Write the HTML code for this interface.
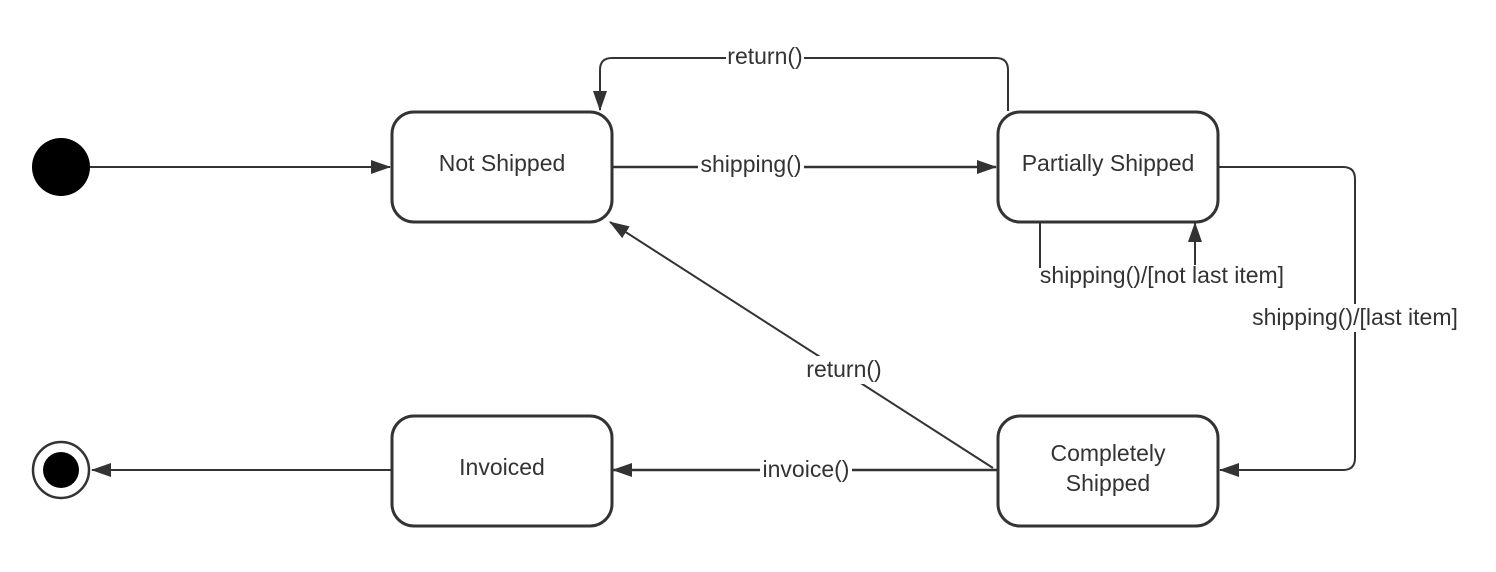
<!DOCTYPE html>
<html><head><style>body{margin:0;background:#fff}svg{display:block}text{font-family:"Liberation Sans",sans-serif;font-size:23px;fill:#333}</style></head><body>
<svg width="1496" height="572" viewBox="0 0 1496 572">
<defs><marker id="a" markerWidth="20" markerHeight="14" refX="19" refY="7" orient="auto" markerUnits="userSpaceOnUse"><path d="M0,0 L20,7 L0,14z" fill="#333"/></marker></defs>
<g fill="none" stroke="#333" stroke-width="2">
<rect x="392" y="112" width="220" height="110" rx="22" stroke-width="3"/>
<rect x="998" y="112" width="220" height="110" rx="22" stroke-width="3"/>
<rect x="392" y="416" width="220" height="110" rx="22" stroke-width="3"/>
<rect x="998" y="416" width="220" height="110" rx="22" stroke-width="3"/>
<line x1="90" y1="167" x2="390" y2="167" marker-end="url(#a)"/>
<line x1="612" y1="167" x2="996" y2="167" marker-end="url(#a)" stroke-width="2.5"/>
<path d="M1008 111 V70 Q1008 58 996 58 H612 Q600 58 600 70 V110" marker-end="url(#a)"/>
<path d="M1040 222 V268"/>
<path d="M1195 265 V223" marker-end="url(#a)"/>
<path d="M1219 167 H1343 Q1355 167 1355 179 V458 Q1355 470 1343 470 H1220" marker-end="url(#a)"/>
<line x1="997" y1="470" x2="613" y2="470" marker-end="url(#a)" stroke-width="2.5"/>
<line x1="993" y1="468" x2="610" y2="222" marker-end="url(#a)"/>
<line x1="391" y1="470" x2="92" y2="470" marker-end="url(#a)"/>
<circle cx="61" cy="470" r="28" stroke-width="2.5"/>
</g>
<circle cx="61" cy="167" r="29" fill="#000"/>
<circle cx="61" cy="470" r="18" fill="#000"/>
<g text-anchor="middle">
<rect x="698" y="152" width="106" height="28" fill="#fff"/><text x="751" y="172">shipping()</text>
<rect x="726" y="43" width="78" height="26" fill="#fff"/><text x="765" y="64">return()</text>
<text x="1162" y="283">shipping()/[not last item]</text>
<rect x="1245" y="304" width="220" height="28" fill="#fff"/><text x="1355" y="325">shipping()/[last item]</text>
<rect x="760" y="456" width="92" height="28" fill="#fff"/><text x="806" y="477">invoice()</text>
<rect x="804" y="356" width="80" height="28" fill="#fff"/><text x="844" y="377">return()</text>
<text x="502" y="171">Not Shipped</text>
<text x="1108" y="171">Partially Shipped</text>
<text x="502" y="475">Invoiced</text>
<text x="1108" y="461">Completely</text>
<text x="1108" y="491">Shipped</text>
</g>
</svg>
</body></html>
